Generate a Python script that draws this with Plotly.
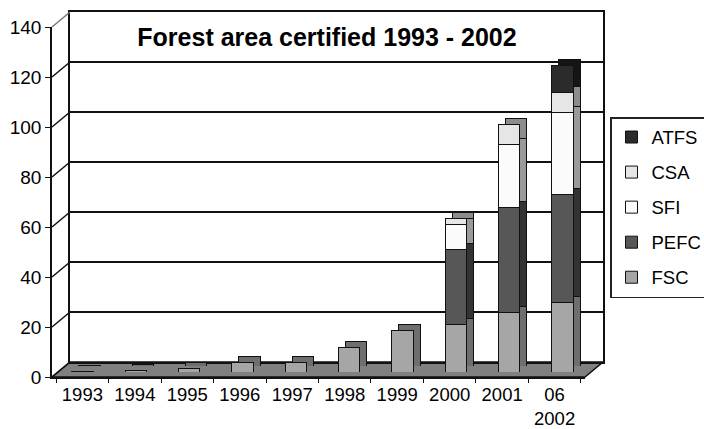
import plotly.graph_objects as go

years = ["1993", "1994", "1995", "1996", "1997", "1998", "1999", "2000", "2001", "2002"]
tick_labels = ["1993", "1994", "1995", "1996", "1997", "1998", "1999", "2000", "2001", "06<br>2002"]
fsc = [0.3, 0.8, 1.5, 4.0, 3.8, 10.0, 16.5, 19.0, 24.0, 28.0]
pefc = [0, 0, 0, 0, 0, 0, 0, 30.0, 42.0, 43.0]
sfi = [0, 0, 0, 0, 0, 0, 0, 10.0, 25.0, 33.0]
csa = [0, 0, 0, 0, 0, 0, 0, 2.5, 8.0, 8.0]
atfs = [0, 0, 0, 0, 0, 0, 0, 0, 0, 10.5]

series = [
    ("FSC", fsc, "#a6a6a6", "#6e6e6e", 5),
    ("PEFC", pefc, "#575757", "#333333", 4),
    ("SFI", sfi, "#fbfbfb", "#9a9a9a", 3),
    ("CSA", csa, "#e6e6e6", "#8c8c8c", 2),
    ("ATFS", atfs, "#2b2b2b", "#151515", 1),
]
y_ticks = [0, 20, 40, 60, 80, 100, 120, 140]

W, H = 704, 429
FONT = "Liberation Sans, Arial, sans-serif"

def px(x):
    return x / W

def py(y):
    return 1 - y / H

# geometry (pixels)
front_x0, front_x1, front_y0, front_y1 = 52, 585, 377, 27
dx, dy = 18, 15          # depth of the back wall
bdx, bdy = 4, 5          # bars sit a little behind the front
sdx, sdy = 7, 6          # bar depth

fig = go.Figure()

# side / top faces of bars (offset copies)
for name, vals, front_c, side_c, rank in series:
    fig.add_trace(go.Bar(
        x=years, y=vals, name=name, showlegend=False, width=0.4,
        marker=dict(color=side_c, line=dict(color="#111111", width=1)),
        xaxis="x3", yaxis="y3", hoverinfo="skip"))
# front faces
for name, vals, front_c, side_c, rank in series:
    fig.add_trace(go.Bar(
        x=years, y=vals, name=name, legendgroup=name, legendrank=rank, width=0.4,
        marker=dict(color=front_c, line=dict(color="#111111", width=1)),
        xaxis="x4", yaxis="y4"))

# empty traces to keep the frame axes alive
fig.add_trace(go.Scatter(x=years, y=[None] * len(years), showlegend=False,
                         xaxis="x", yaxis="y", hoverinfo="skip"))
fig.add_trace(go.Scatter(x=years, y=[None] * len(years), showlegend=False,
                         xaxis="x2", yaxis="y2", hoverinfo="skip"))

def ydom(y0, y1):
    return [py(y0), py(y1)]

hidden = dict(showgrid=False, zeroline=False, showticklabels=False, ticks="", showline=False)

layout = dict(
    width=W, height=H,
    margin=dict(l=0, r=0, t=0, b=0, autoexpand=False),
    paper_bgcolor="white", plot_bgcolor="rgba(0,0,0,0)",
    barmode="stack",
    font=dict(family=FONT, size=19, color="black"),
    title=dict(text="<b>Forest area certified 1993 - 2002</b>", x=px(327), y=py(37),
               xanchor="center", yanchor="middle", font=dict(family=FONT, size=25, color="black")),
    showlegend=True,
    legend=dict(x=px(610), y=py(117), xanchor="left", yanchor="top",
                bordercolor="#222222", borderwidth=1.5, bgcolor="white",
                traceorder="grouped", tracegroupgap=8,
                font=dict(family=FONT, size=18.5, color="black")),
    # front axes with labels
    xaxis=dict(domain=[px(front_x0), px(front_x1)], anchor="y", type="category",
               categoryorder="array", categoryarray=years,
               tickvals=years, ticktext=tick_labels, ticks="outside", tickson="boundaries",
               ticklen=4, tickcolor="#111111", showline=True, linecolor="#111111", linewidth=1.5,
               tickfont=dict(size=18.5),
               showgrid=False, zeroline=False, fixedrange=True),
    yaxis=dict(domain=ydom(front_y0, front_y1), anchor="x", range=[0, 140],
               tickvals=y_ticks, ticks="outside", ticklen=5, tickcolor="#111111",
               showline=True, linecolor="#111111", linewidth=1.5,
               showgrid=False, zeroline=False, fixedrange=True),
    # back wall
    xaxis2=dict(domain=[px(front_x0 + dx), px(front_x1 + dx)], anchor="y2", type="category",
                categoryorder="array", categoryarray=years, showline=True, mirror=True,
                linecolor="#111111", linewidth=1.5, showgrid=False, zeroline=False,
                showticklabels=False, ticks=""),
    yaxis2=dict(domain=ydom(front_y0 - dy, front_y1 - dy), anchor="x2", range=[0, 140],
                tickvals=y_ticks, showgrid=True, gridcolor="#111111", gridwidth=1.5,
                showline=True, mirror=True, linecolor="#111111", linewidth=1.5,
                zeroline=False, showticklabels=False, ticks=""),
    # bar side faces
    xaxis3=dict(domain=[px(front_x0 + bdx + sdx), px(front_x1 + bdx + sdx)], anchor="y3",
                type="category", categoryorder="array", categoryarray=years, **hidden),
    yaxis3=dict(domain=ydom(front_y0 - bdy - sdy, front_y1 - bdy - sdy), anchor="x3",
                range=[0, 140], **hidden),
    # bar front faces
    xaxis4=dict(domain=[px(front_x0 + bdx), px(front_x1 + bdx)], anchor="y4",
                type="category", categoryorder="array", categoryarray=years, **hidden),
    yaxis4=dict(domain=ydom(front_y0 - bdy, front_y1 - bdy), anchor="x4",
                range=[0, 140], **hidden),
)
fig.update_layout(**layout)

# floor and depth connectors (decoration derived from the axis geometry)
scale = (front_y0 - front_y1) / 140.0
shapes = []
floor = (f"M {px(front_x0)},{py(front_y0)} L {px(front_x1)},{py(front_y0)} "
         f"L {px(front_x1 + dx)},{py(front_y0 - dy)} L {px(front_x0 + dx)},{py(front_y0 - dy)} Z")
shapes.append(dict(type="path", path=floor, xref="paper", yref="paper",
                   fillcolor="#808080", line=dict(color="#111111", width=1.5), layer="below"))
for v in y_ticks:
    yy = front_y0 - v * scale
    shapes.append(dict(type="line", xref="paper", yref="paper",
                       x0=px(front_x0), y0=py(yy), x1=px(front_x0 + dx), y1=py(yy - dy),
                       line=dict(color="#111111" if v < 140 else "#777777", width=1.5)))
fig.update_layout(shapes=shapes)

fig.write_html("out.html")
